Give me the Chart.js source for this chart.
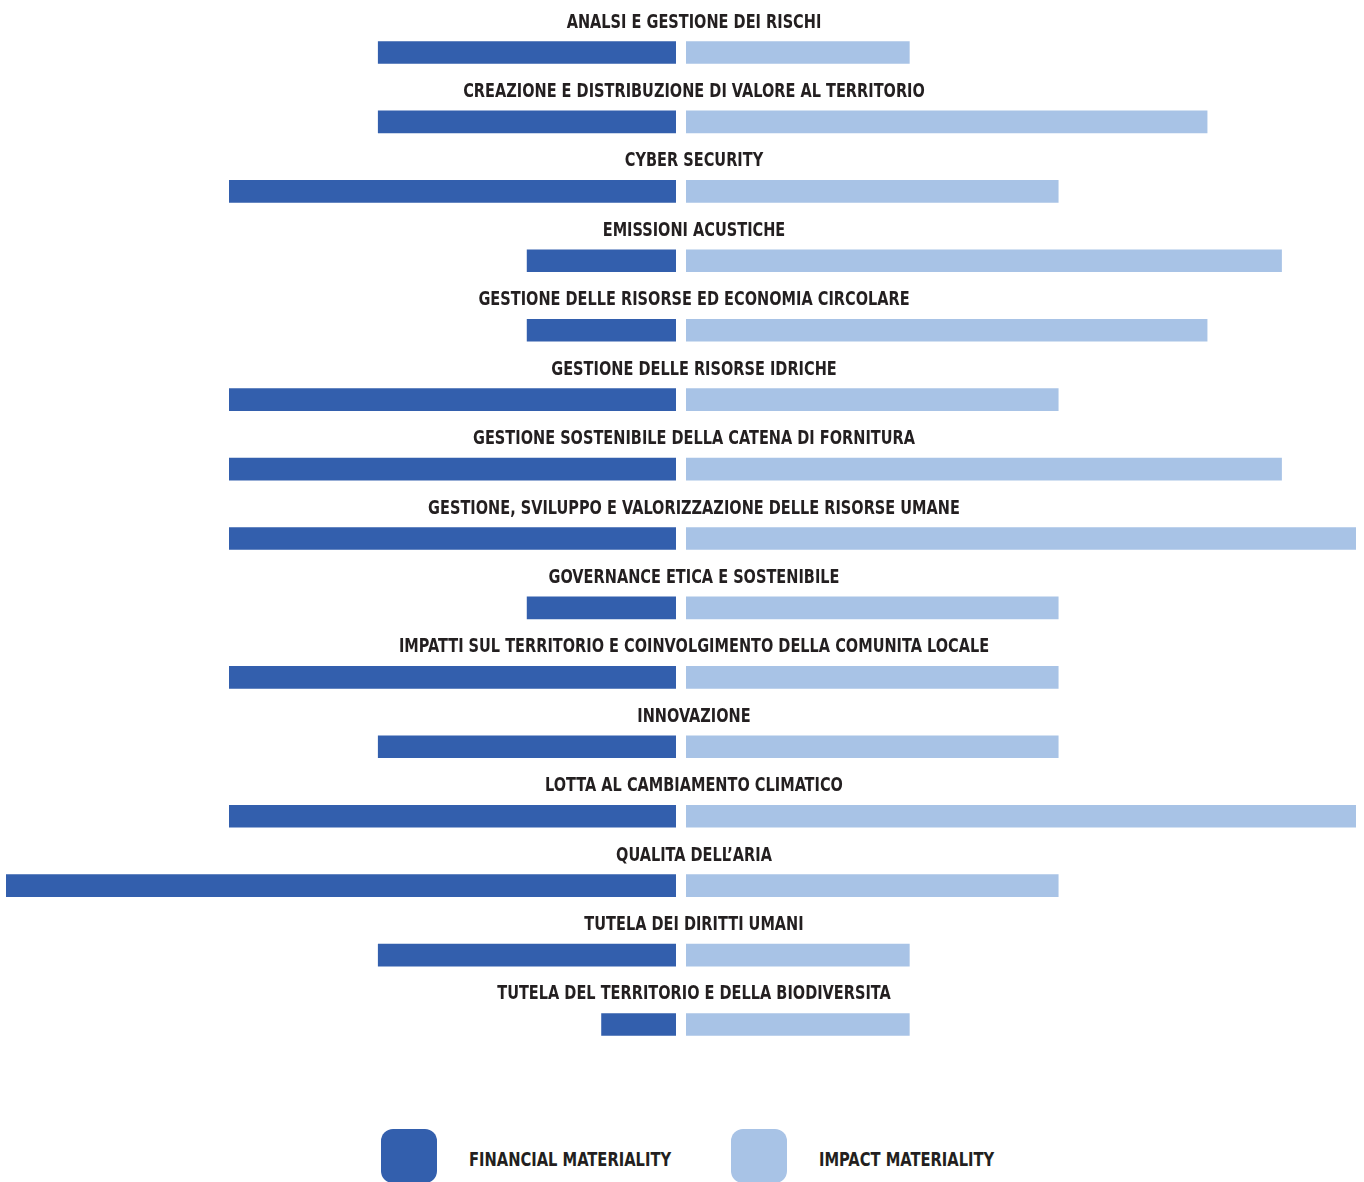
<!DOCTYPE html>
<html>
<head>
<meta charset="utf-8">
<script src="https://cdn.jsdelivr.net/npm/chart.js@4.4.1/dist/chart.umd.min.js"></script>
<style>
  html, body { margin: 0; padding: 0; background: #fff; overflow: hidden; }
  body { width: 1364px; height: 1182px; position: relative; }
  #wrap { position: absolute; left: 0; top: 0; width: 1364px; height: 1080px; }
  #legend {
    position: absolute; top: 1129px; left: 381px;
    display: flex; align-items: flex-start;
    font: bold 19px 'DejaVu Sans Condensed', sans-serif;
    color: #231f20;
  }
  .item { display: flex; align-items: flex-start; margin-right: 60px; }
  .sw { width: 56px; height: 54px; border-radius: 12px; margin-right: 32px; }
  .txt {
    display: inline-block; padding-top: 19px; line-height: 22px; white-space: nowrap;
    transform: scaleX(0.86); transform-origin: left top;
  }
</style>
</head>
<body>
<div id="wrap"><canvas id="materialityChart"></canvas></div>
<div id="legend"></div>
<script>
const categories = [
    'ANALSI E GESTIONE DEI RISCHI',
    'CREAZIONE E DISTRIBUZIONE DI VALORE AL TERRITORIO',
    'CYBER SECURITY',
    'EMISSIONI ACUSTICHE',
    'GESTIONE DELLE RISORSE ED ECONOMIA CIRCOLARE',
    'GESTIONE DELLE RISORSE IDRICHE',
    'GESTIONE SOSTENIBILE DELLA CATENA DI FORNITURA',
    'GESTIONE, SVILUPPO E VALORIZZAZIONE DELLE RISORSE UMANE',
    'GOVERNANCE ETICA E SOSTENIBILE',
    'IMPATTI SUL TERRITORIO E COINVOLGIMENTO DELLA COMUNITA LOCALE',
    'INNOVAZIONE',
    'LOTTA AL CAMBIAMENTO CLIMATICO',
    'QUALITA DELL\u2019ARIA',
    'TUTELA DEI DIRITTI UMANI',
    'TUTELA DEL TERRITORIO E DELLA BIODIVERSITA'
];
const financial = [4, 4, 6, 2, 2, 6, 6, 6, 2, 6, 4, 6, 9, 4, 1];
const impact = [3, 7, 5, 8, 7, 5, 8, 9, 5, 5, 5, 9, 5, 3, 3];
const seriesNames = ['FINANCIAL MATERIALITY', 'IMPACT MATERIALITY'];
const seriesColors = ['#335fad', '#a8c3e6'];
const axisMax = 9;

const labelFont = "bold 19px 'DejaVu Sans Condensed', sans-serif";
const squeeze = 0.85; // the original face is narrower than DejaVu Condensed

// topic names sit centred above each pair of bars
const categoryLabels = {
    id: 'categoryLabels',
    afterDatasetsDraw(chart) {
        const { ctx, chartArea, scales } = chart;
        const cx = (chartArea.left + chartArea.right) / 2 + 13;
        ctx.save();
        ctx.font = labelFont;
        ctx.fillStyle = '#231f20';
        ctx.textAlign = 'center';
        ctx.textBaseline = 'alphabetic';
        categories.forEach((label, i) => {
            ctx.save();
            ctx.translate(cx, scales.y.getPixelForValue(i) - 25);
            ctx.scale(squeeze, 1);
            ctx.fillText(label, 0, 0);
            ctx.restore();
        });
        ctx.restore();
    }
};

const hiddenX = (weight, stackWeight, extra) => Object.assign({
    type: 'linear',
    position: 'bottom',
    stack: 'sides',
    stackWeight: stackWeight,
    weight: weight,
    display: false,
    min: 0,
    max: axisMax
}, extra || {});

new Chart(document.getElementById('materialityChart').getContext('2d'), {
    type: 'bar',
    data: {
        labels: categories,
        datasets: [{
            label: seriesNames[0],
            data: financial,
            xAxisID: 'xF',
            backgroundColor: seriesColors[0]
        }, {
            label: seriesNames[1],
            data: impact,
            xAxisID: 'xI',
            backgroundColor: seriesColors[1]
        }]
    },
    options: {
        indexAxis: 'y',
        responsive: true,
        maintainAspectRatio: false,
        animation: false,
        layout: { padding: { top: 17.8, bottom: 20.8, left: 6, right: 8 } },
        datasets: {
            bar: { grouped: false, barThickness: 22, borderWidth: 0 }
        },
        scales: {
            y: { type: 'category', display: false, offset: true },
            xF: hiddenX(1, 670, { reverse: true }),
            xGap: hiddenX(2, 10),
            xI: hiddenX(3, 670)
        },
        plugins: {
            legend: { display: false },
            tooltip: { enabled: false }
        }
    },
    plugins: [categoryLabels]
});

const legend = document.getElementById('legend');
seriesNames.forEach((name, i) => {
    const item = document.createElement('div');
    item.className = 'item';
    const sw = document.createElement('div');
    sw.className = 'sw';
    sw.style.background = seriesColors[i];
    const txt = document.createElement('span');
    txt.className = 'txt';
    txt.textContent = name;
    item.appendChild(sw);
    item.appendChild(txt);
    legend.appendChild(item);
    // scaleX does not shrink the layout box, so pull the next item back
    txt.style.marginRight = (-(1 - 0.86) * txt.offsetWidth) + 'px';
});
</script>
</body>
</html>
